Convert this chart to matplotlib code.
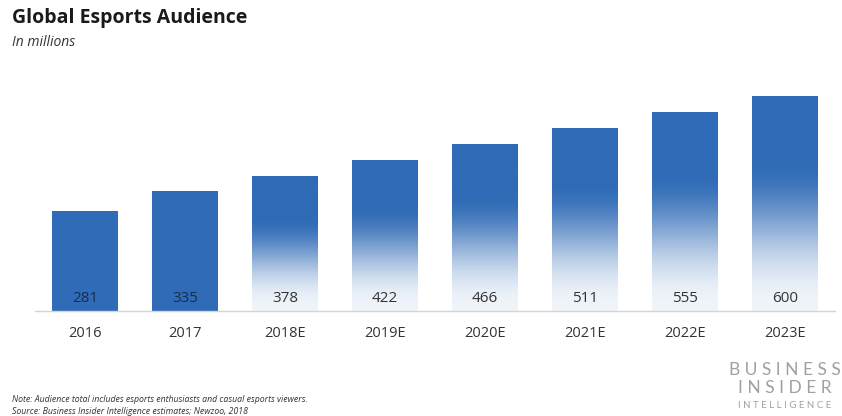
import numpy as np
import matplotlib
matplotlib.use('Agg')
import matplotlib.pyplot as plt
from matplotlib.colors import to_rgb

years = ['2016', '2017', '2018E', '2019E', '2020E', '2021E', '2022E', '2023E']
audience = [281, 335, 378, 422, 466, 511, 555, 600]
estimated = [False, False, True, True, True, True, True, True]

blue = np.array(to_rgb('#2f6bb6'))
white = np.array([1.0, 1.0, 1.0])

plt.rcParams['font.family'] = ['Open Sans', 'DejaVu Sans']

fig = plt.figure(figsize=(8.42, 4.16), dpi=100)
ax = fig.add_axes([35 / 842, 105 / 416, 800 / 842, 232 / 416])

x = np.arange(len(years))
width = 0.66


def gradient_img(n=200):
    # bottom -> top: pale at the base, easing into solid blue near the top
    t = np.linspace(0, 1, n)
    u = np.clip(t / 0.7, 0, 1) ** 1.15
    a = 3 * u ** 2 - 2 * u ** 3
    a = 0.07 + 0.93 * a
    col = white[None, :] * (1 - a[:, None]) + blue[None, :] * a[:, None]
    return col[:, None, :]


img = gradient_img()
for xi, v, est in zip(x, audience, estimated):
    if est:
        ax.imshow(img, extent=(xi - width / 2, xi + width / 2, 0, v),
                  origin='lower', aspect='auto', zorder=2, interpolation='bilinear')
        txt_color = '#333333'
    else:
        ax.bar(xi, v, width=width, color=blue, zorder=2)
        txt_color = '#1c2c4a'
    ax.text(xi, 36, str(v), ha='center', va='center', fontsize=11, color=txt_color, zorder=3)

ax.set_xlim(-0.5, len(years) - 0.5)
ax.set_ylim(0, 650)
ax.set_xticks(x)
ax.set_xticklabels(years, fontsize=10.5, color='#333333')
ax.tick_params(axis='x', length=0, pad=11)
ax.set_yticks([])
for s in ['top', 'right', 'left']:
    ax.spines[s].set_visible(False)
ax.spines['bottom'].set_color('#d4d4d4')
ax.spines['bottom'].set_linewidth(1)

fig.text(12 / 842, 1 - 18 / 416, 'Global Esports Audience', fontsize=14, fontweight='bold',
         color='#1a1a1a', va='center', ha='left')
fig.text(12 / 842, 1 - 43 / 416, 'In millions', fontsize=10, style='italic',
         color='#333333', va='center', ha='left')

fig.text(12 / 842, 1 - 400 / 416,
         'Note: Audience total includes esports enthusiasts and casual esports viewers.',
         fontsize=6.3, style='italic', color='#333333', va='center', ha='left')
fig.text(12 / 842, 1 - 412 / 416,
         'Source: Business Insider Intelligence estimates; Newzoo, 2018',
         fontsize=6.3, style='italic', color='#333333', va='center', ha='left')

logo_font = ['Lato', 'DejaVu Sans']
fig.text(785 / 842, 1 - 370 / 416, 'B U S I N E S S', fontsize=12.5, color='#a0a0a0',
         ha='center', va='center', fontfamily=logo_font)
fig.text(785 / 842, 1 - 388 / 416, 'I N S I D E R', fontsize=12.5, color='#a0a0a0',
         ha='center', va='center', fontfamily=logo_font)
fig.text(785 / 842, 1 - 406 / 416, 'I N T E L L I G E N C E', fontsize=7, color='#a0a0a0',
         ha='center', va='center', fontfamily=logo_font)

fig.savefig('out.png', dpi=100)
